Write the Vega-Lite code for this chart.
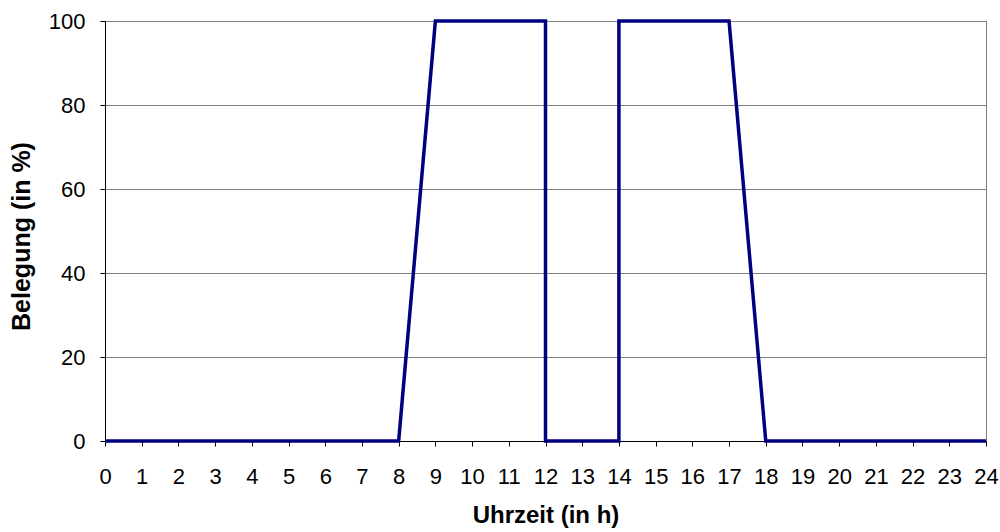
{
  "$schema": "https://vega.github.io/schema/vega-lite/v6.json",
  "autosize": {"type": "none"},
  "width": 881,
  "height": 420,
  "padding": {"left": 105, "top": 21, "right": 14, "bottom": 91},
  "background": "white",
  "config": {
    "font": "Liberation Sans",
    "view": {"stroke": "#808080", "strokeWidth": 1}
  },
  "data": {
    "values": [
      {"i": 0, "h": 0, "v": 0},
      {"i": 1, "h": 1, "v": 0},
      {"i": 2, "h": 2, "v": 0},
      {"i": 3, "h": 3, "v": 0},
      {"i": 4, "h": 4, "v": 0},
      {"i": 5, "h": 5, "v": 0},
      {"i": 6, "h": 6, "v": 0},
      {"i": 7, "h": 7, "v": 0},
      {"i": 8, "h": 8, "v": 0},
      {"i": 9, "h": 9, "v": 100},
      {"i": 10, "h": 10, "v": 100},
      {"i": 11, "h": 11, "v": 100},
      {"i": 12, "h": 12, "v": 100},
      {"i": 13, "h": 12, "v": 0},
      {"i": 14, "h": 13, "v": 0},
      {"i": 15, "h": 14, "v": 0},
      {"i": 16, "h": 14, "v": 100},
      {"i": 17, "h": 15, "v": 100},
      {"i": 18, "h": 16, "v": 100},
      {"i": 19, "h": 17, "v": 100},
      {"i": 20, "h": 18, "v": 0},
      {"i": 21, "h": 19, "v": 0},
      {"i": 22, "h": 20, "v": 0},
      {"i": 23, "h": 21, "v": 0},
      {"i": 24, "h": 22, "v": 0},
      {"i": 25, "h": 23, "v": 0},
      {"i": 26, "h": 24, "v": 0}
    ]
  },
  "mark": {"type": "line", "color": "#000080", "strokeWidth": 3.5, "clip": false},
  "encoding": {
    "order": {"field": "i", "type": "quantitative"},
    "x": {
      "field": "h",
      "type": "quantitative",
      "scale": {"domain": [0, 24], "nice": false, "zero": false},
      "axis": {
        "title": "Uhrzeit (in h)",
        "values": [0,1,2,3,4,5,6,7,8,9,10,11,12,13,14,15,16,17,18,19,20,21,22,23,24],
        "format": "d",
        "grid": false,
        "domainColor": "#000000",
        "tickColor": "#000000",
        "tickSize": 5,
        "labelFontSize": 22,
        "labelColor": "#000000",
        "labelPadding": 20,
        "labelFlush": false,
        "labelOverlap": false,
        "titleFontSize": 24,
        "titleFontWeight": "bold",
        "titleColor": "#000000",
        "titlePadding": 16
      }
    },
    "y": {
      "field": "v",
      "type": "quantitative",
      "scale": {"domain": [0, 100], "nice": false},
      "axis": {
        "title": "Belegung (in %)",
        "values": [0, 20, 40, 60, 80, 100],
        "grid": true,
        "gridColor": "#808080",
        "gridOpacity": 1,
        "gridWidth": 1,
        "domainColor": "#000000",
        "tickColor": "#000000",
        "tickSize": 5,
        "labelFontSize": 22,
        "labelColor": "#000000",
        "labelPadding": 15,
        "labelFlush": false,
        "titleFontSize": 25,
        "titleFontWeight": "bold",
        "titleColor": "#000000",
        "titlePadding": 14,
        "titleY": 215
      }
    }
  }
}
